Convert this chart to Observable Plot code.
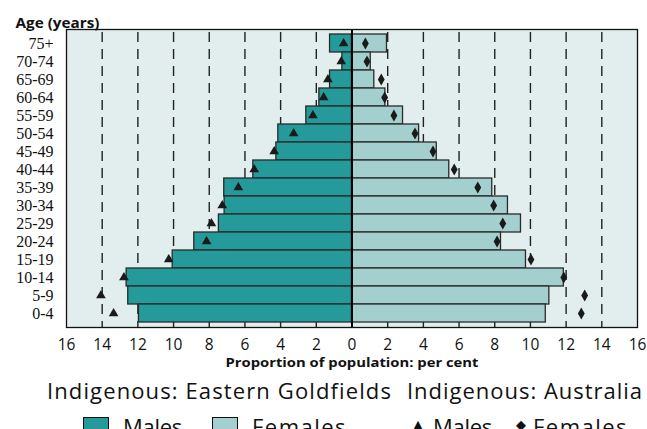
<!DOCTYPE html>
<html>
<head>
<meta charset="utf-8">
<script src="https://cdn.jsdelivr.net/npm/d3@7"></script>
<script src="https://cdn.jsdelivr.net/npm/@observablehq/plot@0.6"></script>
<style>
  body { margin: 0; background: #fff; width: 647px; height: 429px; overflow: hidden; position: relative; }
  #chart { position: absolute; left: 0; top: 0; }
  .lg { position: absolute; font-family: "Open Sans", sans-serif; font-size: 22px; line-height: 22px; color: #111; white-space: nowrap; }
  .sw { position: absolute; top: 417px; width: 24px; height: 12px; border: 1.5px solid #111; }
  .sym { position: absolute; font-family: "DejaVu Sans", sans-serif; font-size: 13px; line-height: 13px; color: #111; }
  g[aria-label="y-axis tick label"] text { font-family: "Liberation Serif", "DejaVu Serif", serif !important; }
</style>
</head>
<body>
<div id="chart"></div>
<span class="lg" data-w="345" style="left:47px;top:378.5px">Indigenous: Eastern Goldfields</span>
<span class="lg" data-w="236" style="left:407px;top:378.5px">Indigenous: Australia</span>
<span class="sw" style="left:83px;background:#259a9a"></span>
<span class="lg" data-w="59" style="left:123px;top:415px">Males</span>
<span class="sw" style="left:212px;background:#a3cfce"></span>
<span class="lg" data-w="95" style="left:252px;top:415px">Females</span>
<span class="sym" style="left:413px;top:418px">▲</span>
<span class="lg" data-w="59" style="left:433px;top:415px">Males</span>
<span class="sym" style="left:516px;top:418px">◆</span>
<span class="lg" data-w="95" style="left:533px;top:415px">Females</span>
<script>
const ages = ["75+","70-74","65-69","60-64","55-59","50-54","45-49","40-44","35-39","30-34","25-29","20-24","15-19","10-14","5-9","0-4"];
// Indigenous: Eastern Goldfields (bars), per cent
const egMales   = [1.23,0.54,1.23,1.83,2.56,4.13,4.24,5.53,7.16,7.14,7.46,8.84,10.05,12.63,12.54,11.94];
const egFemales = [1.96,1.05,1.25,1.87,2.86,3.76,4.75,5.45,7.86,8.74,9.47,8.35,9.75,11.87,11.06,10.86];
// Indigenous: Australia (symbols), per cent
const auMales   = [0.47,0.60,1.35,1.59,2.19,3.27,4.36,5.48,6.37,7.27,7.88,8.15,10.27,12.78,14.07,13.36];
const auFemales = [0.75,0.84,1.64,1.83,2.35,3.53,4.54,5.73,7.05,7.94,8.45,8.13,10.03,11.87,13.04,12.85];
const xTicks = [-16,-14,-12,-10,-8,-6,-4,-2,0,2,4,6,8,10,12,14,16];
const gridTicks = xTicks.filter(d => d !== 0 && Math.abs(d) !== 16);

const rows = ages.map((a, i) => ({age: a, egM: egMales[i], egF: egFemales[i], auM: auMales[i], auF: auFemales[i]}));

const chart = Plot.plot({
  width: 647,
  height: 380,
  marginTop: 29,
  marginLeft: 66,
  marginRight: 10,
  marginBottom: 53,
  style: {fontFamily: "'Open Sans', sans-serif", fontSize: "16px", color: "#111", background: "transparent", overflow: "visible"},
  x: {domain: [-16, 16], label: null},
  y: {domain: ages, padding: 0, label: null},
  marks: [
    Plot.frame({fill: "#e1eeed"}),
    Plot.ruleX(gridTicks, {stroke: "#222", strokeWidth: 1.4, strokeDasharray: "10,7", strokeDashoffset: -3}),
    Plot.barX(rows, {y: "age", x1: 0, x2: d => -d.egM, fill: "#259a9a", stroke: "#2a2a2a", strokeWidth: 1.3}),
    Plot.barX(rows, {y: "age", x1: 0, x2: d => d.egF, fill: "#a3cfce", stroke: "#2a2a2a", strokeWidth: 1.3}),
    Plot.ruleX([0], {stroke: "#000", strokeWidth: 2}),
    Plot.frame({stroke: "#111", strokeWidth: 1.3}),
    Plot.dot(rows, {y: "age", x: d => -d.auM, symbol: "triangle", r: 3.6, fill: "#1a1a1a", stroke: "none"}),
    Plot.dot(rows, {y: "age", x: d => d.auF, symbol: "diamond", r: 3.6, fill: "#1a1a1a", stroke: "none"}),
    Plot.axisX({ticks: xTicks, tickFormat: d => Math.abs(d), tickSize: 0, tickPadding: 11, fontSize: 15.5, label: null}),
    Plot.axisY({tickSize: 0, tickPadding: 13, fontSize: 16, label: null}),
    Plot.text(["Age (years)"], {text: d => d, frameAnchor: "top-left", dx: -51, dy: -2, textAnchor: "start", lineAnchor: "bottom",
      fontFamily: "'Open Sans', sans-serif", fontWeight: "bold", fontSize: 14}),
    Plot.text(["Proportion of population: per cent"], {text: d => d, frameAnchor: "bottom", dy: 35, lineAnchor: "middle",
      fontFamily: "'Open Sans', sans-serif", fontWeight: "bold", fontSize: 13})
  ]
});
document.getElementById("chart").appendChild(chart);

// serif age labels
const ageSet = new Set(ages);
chart.querySelectorAll("text").forEach(t => {
  if (ageSet.has(t.textContent)) {
    t.setAttribute("font-family", "Liberation Serif, DejaVu Serif, serif");
    t.style.fontFamily = "'Liberation Serif', 'DejaVu Serif', serif";
  }
});

// fit text widths to the reference
function fitSvg(str, w) {
  chart.querySelectorAll("text").forEach(t => {
    if (t.textContent === str) {
      t.setAttribute("textLength", w);
      t.setAttribute("lengthAdjust", "spacingAndGlyphs");
    }
  });
}
fitSvg("Age (years)", 84);
fitSvg("Proportion of population: per cent", 253);
document.querySelectorAll(".lg").forEach(el => {
  const target = +el.dataset.w;
  const w = el.getBoundingClientRect().width;
  const n = el.textContent.length;
  el.style.letterSpacing = ((target - w) / n) + "px";
});
</script>
</body>
</html>
